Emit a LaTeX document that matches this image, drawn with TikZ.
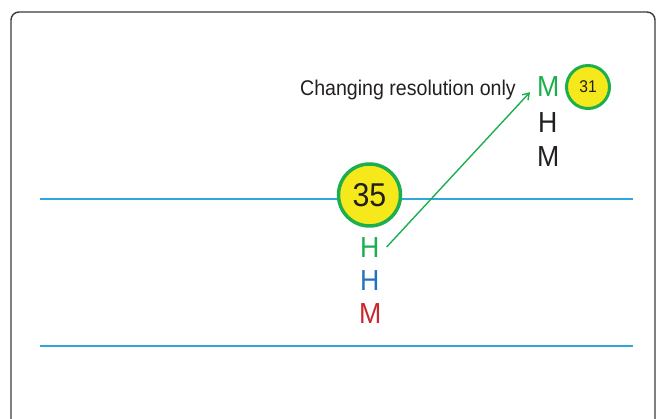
\documentclass[tikz,border=0pt]{standalone}
\usepackage{fontspec}
\setmainfont[FakeStretch=0.92]{Liberation Sans}
\usepackage{xcolor}
\usepackage{tikz}
\usetikzlibrary{arrows.meta,positioning}

\definecolor{ringgreen}{HTML}{1DAF4E}
\definecolor{badgeyellow}{HTML}{F5E91C}
\definecolor{levelblue}{HTML}{2EA7DC}
\definecolor{hblue}{HTML}{2472BD}
\definecolor{mred}{HTML}{C9272E}
\definecolor{inkblack}{HTML}{231F20}
\definecolor{framegray}{HTML}{3A3A3A}

\begin{document}
\begin{tikzpicture}[x=1pt,y=-1pt,
  every node/.style={inner sep=0pt,text=inkblack},
  badge/.style={circle,draw=ringgreen,fill=badgeyellow},
  letter/.style={font=\fontsize{29}{29}\selectfont,anchor=west},
  level/.style={draw=levelblue,line width=1.3pt},
  pointer/.style={draw=ringgreen,line width=1.4pt,-{Straight Barb[length=6pt,width=8pt]}}]
\useasboundingbox (0,0) rectangle (657,419);
\clip (0,0) rectangle (657,419);
% frame and the two levels
\draw[framegray,line width=1.4pt,rounded corners=8pt] (11,12) rectangle (655,440);
\draw[level] (40,199) -- (633,199);
\draw[level] (40,346) -- (633,346);
% left stack
\node[badge,line width=3.5pt,minimum size=62pt,font=\fontsize{33}{33}\selectfont] (b35) at (369.5,195) {35};
\node[letter,text=ringgreen] (h1) at (360,248) {H};
\node[letter,text=hblue] (h2) at (360,280.5) {H};
\node[letter,text=mred] (m1) at (359,313.5) {M};
% right stack
\node[letter,text=ringgreen] (m2) at (537,87) {M};
\node[letter] (h3) at (538,123) {H};
\node[letter] (m3) at (537,156.5) {M};
\node[badge,line width=3pt,minimum size=43pt,font=\fontsize{17}{17}\selectfont] (b31) at (588,87) {31};
\node[font=\fontsize{21.3}{21.3}\selectfont,anchor=base east] (note) at (516,96) {Changing resolution only};
\draw[pointer] ([xshift=7pt,yshift=1pt]h1.east) -- ([xshift=-7pt,yshift=5pt]m2.south west);
\end{tikzpicture}
\end{document}
